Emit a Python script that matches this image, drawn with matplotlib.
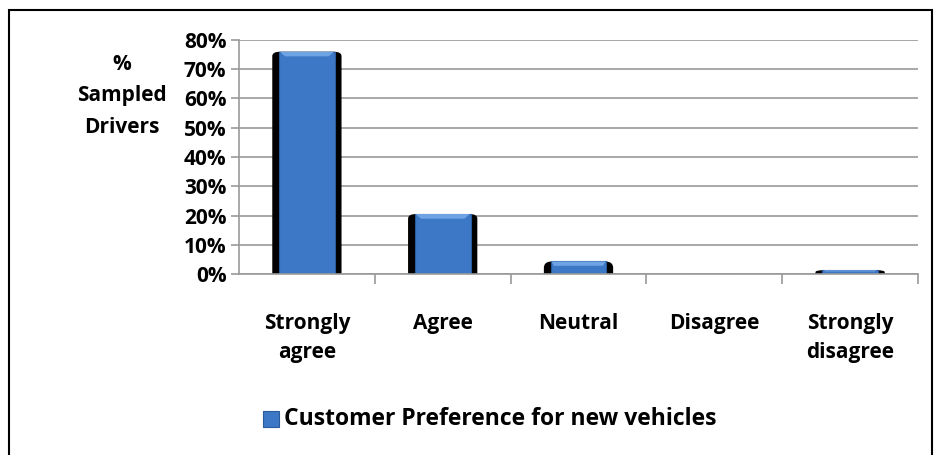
import matplotlib
matplotlib.use("Agg")
import matplotlib.pyplot as plt
from matplotlib.patches import FancyBboxPatch, Rectangle, Polygon
from matplotlib.ticker import PercentFormatter

categories = ["Strongly\nagree", "Agree", "Neutral", "Disagree", "Strongly\ndisagree"]
shares = [76, 20.5, 4.3, 0, 1.3]
y_ticks = [0, 10, 20, 30, 40, 50, 60, 70, 80]
series_name = "Customer Preference for new vehicles"

BLUE = "#3d78c6"
EDGE = "#2a5a9c"
LIGHT = "#6ea3e4"
GRID = "#9a9a9a"

plt.rcParams["font.family"] = ["Open Sans", "DejaVu Sans"]
plt.rcParams["font.weight"] = "bold"
FS = 15

fig = plt.figure(figsize=(9.34, 4.55), dpi=100)
ax = fig.add_axes([239 / 934, 1 - 274 / 455, (918 - 239) / 934, (274 - 40) / 455])

x = list(range(len(categories)))
for xi, v in zip(x, shares):
    if v <= 0:
        continue
    # black rounded shadow behind each column; bottom dips below 0 so only top corners show
    base = -4
    ax.add_patch(FancyBboxPatch((xi - 0.255, base), 0.51, v - base,
                                boxstyle="round,pad=0,rounding_size=0.06",
                                mutation_aspect=25 if v > 5 else v / 0.12,
                                fc="black", ec="none", zorder=2))
ax.bar(x, shares, width=0.41, color=BLUE, edgecolor=EDGE, linewidth=0.8, zorder=3)
# bevelled highlight along the top of each column
for xi, v in zip(x, shares):
    if v <= 0:
        continue
    h = min(1.6, v * 0.35)
    dx = 0.04 if v > 5 else 0.02
    ax.add_patch(Polygon([(xi - 0.2, v), (xi + 0.2, v), (xi + 0.2 - dx, v - h),
                          (xi - 0.2 + dx, v - h)], closed=True,
                         fc=LIGHT, ec="none", zorder=4))

ax.set_xlim(-0.5, len(categories) - 0.5)
ax.set_ylim(0, 80)
ax.set_yticks(y_ticks)
ax.yaxis.set_major_formatter(PercentFormatter(decimals=0))
ax.yaxis.grid(True, color=GRID, linewidth=1.2, zorder=0)
ax.set_axisbelow(True)

ax.set_xticks([i + 0.5 for i in x])
ax.set_xticklabels([])
ax.set_xticks(x, minor=True)
ax.set_xticklabels(categories, minor=True, fontsize=FS, fontweight="bold", linespacing=1.5)
ax.tick_params(axis="x", which="minor", length=0, pad=28)
ax.tick_params(axis="x", which="major", length=7, color=GRID, width=1.2)
ax.tick_params(axis="y", length=6, color=GRID, width=1.2, labelsize=FS, pad=3)
for lbl in ax.get_yticklabels():
    lbl.set_fontweight("bold")

for s in ["top", "right"]:
    ax.spines[s].set_visible(False)
for s in ["left", "bottom"]:
    ax.spines[s].set_color(GRID)
    ax.spines[s].set_linewidth(1.2)
    ax.spines[s].set_zorder(5)

fig.text(122 / 934, 1 - 96 / 455, "%\nSampled\nDrivers", ha="center", va="center",
         fontsize=FS, fontweight="bold", linespacing=1.65)

# legend
fig.patches.append(Rectangle((263 / 934, 1 - 427 / 455), 16 / 934, 16 / 455,
                             transform=fig.transFigure, fc=BLUE, ec=EDGE, lw=0.8))
fig.text(284 / 934, 1 - 419 / 455, series_name, ha="left", va="center",
         fontsize=16.5, fontweight="bold")

# outer frame
fig.patches.append(Rectangle((9 / 934, -0.01), 923 / 934, 1 - 10 / 455 + 0.01,
                             transform=fig.transFigure, fill=False, ec="black", lw=1.5))

fig.savefig("out.png", dpi=100)
